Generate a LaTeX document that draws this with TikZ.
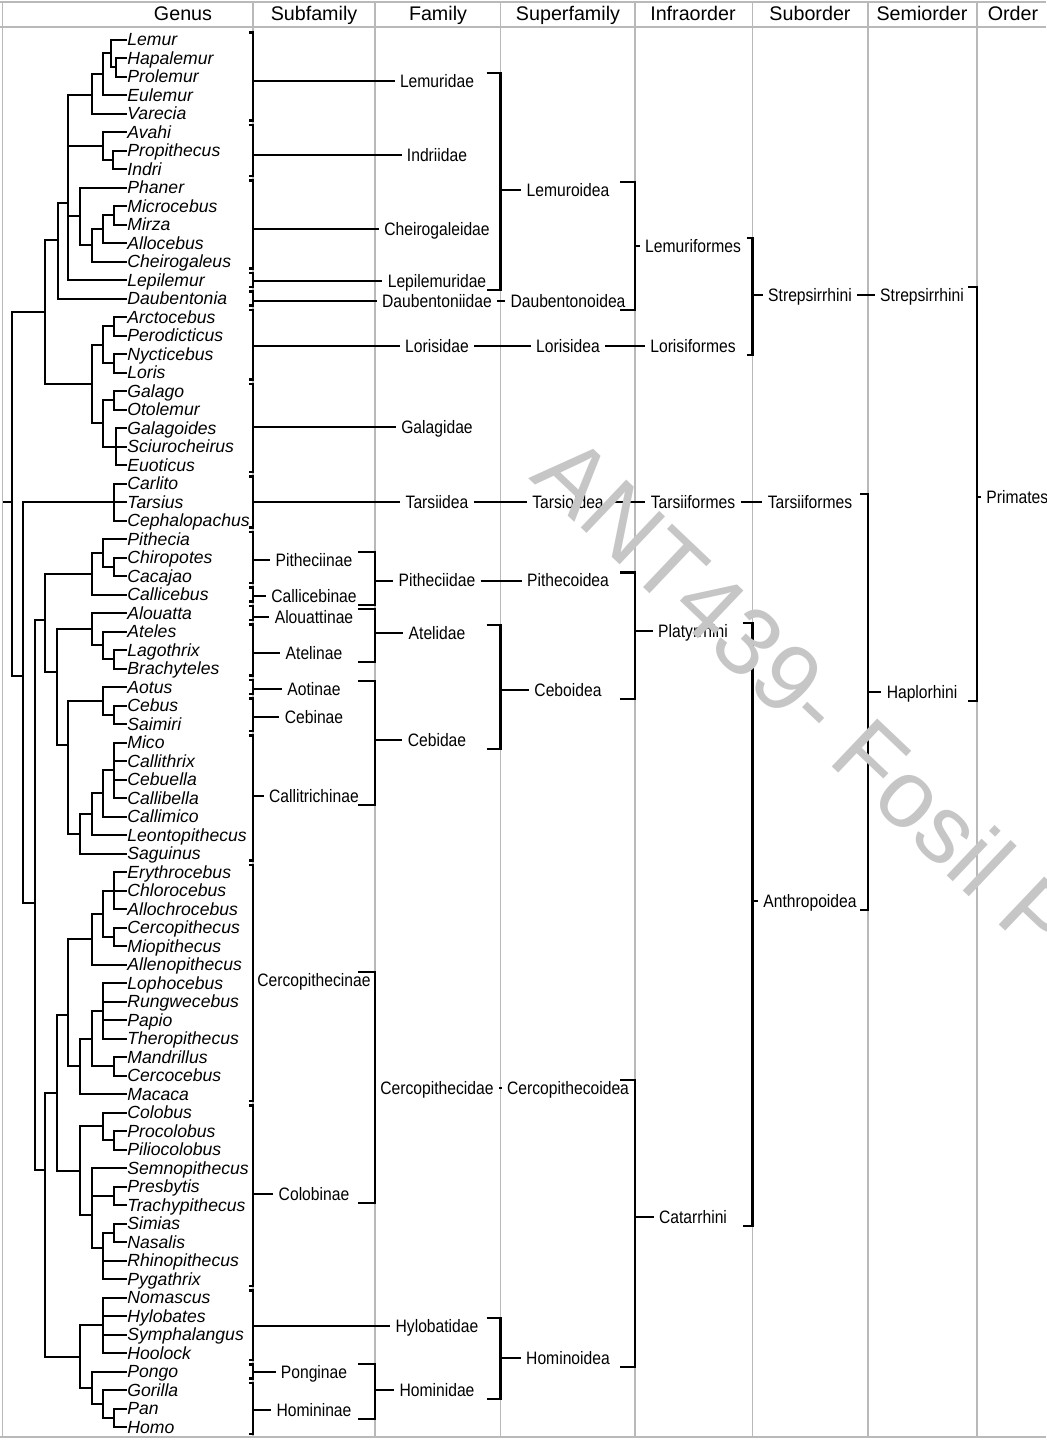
\documentclass[tikz,border=0pt]{standalone}
\usepackage{fontspec}
\setmainfont{Liberation Sans}
\newfontfamily\labfont[FakeStretch=0.87]{Liberation Sans}
\usetikzlibrary{calc}

\definecolor{gridgrey}{RGB}{185,185,185}
\definecolor{wmgrey}{RGB}{198,198,198}

\tikzset{
  genus/.style={anchor=west, inner sep=0pt, text height=6.3pt, text depth=0pt,
    font=\fontsize{8.8}{10}\selectfont\itshape},
  lab/.style={inner xsep=2.5pt, inner ysep=0pt, text height=6.4pt, text depth=0pt,
    font=\labfont\fontsize{9}{11}\selectfont},
  hdr/.style={anchor=base, inner sep=0pt, font=\fontsize{9.85}{12}\selectfont},
  tree/.style={line width=1pt},
  brk/.style={line width=1.2pt},
  gridln/.style={draw=gridgrey, line width=0.8pt},
  wmark/.style={text=wmgrey, inner sep=0pt, font=\fontsize{48}{50}\selectfont}
}

% bracket: column, tick length, top label, bottom label, target label
\newcommand{\labbrack}[5]{%
  \draw[brk] ($(#1 |- #3)+(-#2,4pt)$) -- ($(#1 |- #3)+(0,4pt)$)
    -- ($(#1 |- #4)+(0,-4.5pt)$) -- ($(#1 |- #4)+(-#2,-4.5pt)$);
  \draw[tree] (#1 |- #5) -- (#5.west);}

\begin{document}
\begin{tikzpicture}[x=0.5pt,y=-0.5pt]
\clip (0,0) rectangle (1046,1440);
\fill[white] (0,0) rectangle (1046,1440);

% table grid
\draw[gridln] (0,2) -- (1046,2);
\draw[gridln] (0,27) -- (1046,27);
\draw[gridln] (0,1437) -- (1046,1437);
\draw[gridln] (2.5,2) -- (2.5,1437);
\foreach \x in {253,375,500.5,635,752.5,868,977} { \draw[gridln] (\x,2) -- (\x,1437); }

\coordinate (eGenus) at (253,0);
\coordinate (eSubfam) at (375,0);
\coordinate (eFamily) at (500.5,0);
\coordinate (eSuperfam) at (635,0);
\coordinate (eInfra) at (752.5,0);
\coordinate (eSubord) at (868,0);
\coordinate (eSemi) at (977,0);

\foreach \x/\n/\t in {183/hGenus/Genus, 314/hSubfam/Subfamily, 438/hFamily/Family,
    568/hSuperfam/Superfamily, 693/hInfra/Infraorder, 810/hSubord/Suborder,
    922/hSemi/Semiorder, 1013/hOrder/Order}
  { \node[hdr] (\n) at (\x,20) {\t}; }

% genera
\foreach \g [count=\i from 0] in {Lemur, Hapalemur, Prolemur, Eulemur, Varecia, Avahi,
    Propithecus, Indri, Phaner, Microcebus, Mirza, Allocebus, Cheirogaleus, Lepilemur,
    Daubentonia, Arctocebus, Perodicticus, Nycticebus, Loris, Galago, Otolemur,
    Galagoides, Sciurocheirus, Euoticus, Carlito, Tarsius, Cephalopachus, Pithecia,
    Chiropotes, Cacajao, Callicebus, Alouatta, Ateles, Lagothrix, Brachyteles, Aotus,
    Cebus, Saimiri, Mico, Callithrix, Cebuella, Callibella, Callimico, Leontopithecus,
    Saguinus, Erythrocebus, Chlorocebus, Allochrocebus, Cercopithecus, Miopithecus,
    Allenopithecus, Lophocebus, Rungwecebus, Papio, Theropithecus, Mandrillus,
    Cercocebus, Macaca, Colobus, Procolobus, Piliocolobus, Semnopithecus, Presbytis,
    Trachypithecus, Simias, Nasalis, Rhinopithecus, Pygathrix, Nomascus, Hylobates,
    Symphalangus, Hoolock, Pongo, Gorilla, Pan, Homo}
  { \node[genus] (g\i) at (127,{39.5+18.5*\i}) {\g}; }

% rank labels
\foreach \n/\x/\y/\t in {
    sPith/314/560/Pitheciinae, sCalli/314/596/Callicebinae, sAlou/314/617/Alouattinae,
    sAtel/314/653/Atelinae, sAot/314/689/Aotinae, sCeb/314/717/Cebinae,
    sCallit/314/796/Callitrichinae, sCerc/314/980/Cercopithecinae,
    sColob/314/1194/Colobinae, sPong/314/1372/Ponginae, sHomin/314/1410/Homininae,
    fLemur/437/81/Lemuridae, fIndri/437/155/Indriidae, fCheir/437/229/Cheirogaleidae,
    fLepil/437/281/Lepilemuridae, fDaub/437/301/Daubentoniidae, fLoris/437/346/Lorisidae,
    fGalag/437/427/Galagidae, fTars/437/502/Tarsiidea, fPith/437/580.5/Pitheciidae,
    fAtel/437/633/Atelidae, fCeb/437/740/Cebidae, fCerc/437/1088/Cercopithecidae,
    fHylo/437/1326/Hylobatidae, fHomin/437/1390/Hominidae,
    pLemur/568/190/Lemuroidea, pDaub/568/301/Daubentonoidea, pLoris/568/346/Lorisidea,
    pTars/568/502/Tarsioidea, pPith/568/580.5/Pithecoidea, pCeb/568/690/Ceboidea,
    pCerc/568/1088/Cercopithecoidea, pHomin/568/1358/Hominoidea,
    iLemur/693/246/Lemuriformes, iLoris/693/346/Lorisiformes, iTars/693/502/Tarsiiformes,
    iPlat/693/631/Platyrrhini, iCat/693/1217/Catarrhini,
    oStrep/810/295/Strepsirrhini, oTars/810/502/Tarsiiformes, oAnth/810/901/Anthropoidea,
    mStrep/922/295/Strepsirrhini, mHapl/922/692/Haplorhini}
  { \node[lab] (\n) at (\x,\y) {\t}; }
\node[lab, anchor=west] (ordPrim) at (981,497) {Primates};

% tree
\foreach \n/\x/\y in {t1/116/67.3, t2/111/53.4, t3/103/74.2, t4/92/95, t5/113/159.8,
    t6/103/146, t7/114/215.3, t8/103/229.1, t9/92/245.3, t10/80/216.4, t11/68/203,
    t12/58/240, t13/114/326.3, t14/114/363.3, t15/103/344.8, t16/114/400.3,
    t17/116/446.5, t18/103/423.4, t19/92/384.1, t20/45/312, t21/114/502,
    t22/114/566.8, t23/103/552.9, t24/92/573.7, t25/114/659.3, t26/103/645.4,
    t27/92/629.2, t28/114/714.8, t29/103/700.9, t30/114/770.3, t31/103/793.4,
    t32/92/814.2, t33/80/833.9, t34/68/745, t35/57/672, t36/45/620,
    t37/114/890.5, t38/114/936.8, t39/103/913.6, t40/92/939, t41/103/1010.8,
    t42/114/1066.3, t43/92/1038.5, t44/80/1066.3, t45/68/1015, t46/114/1140.3,
    t47/103/1126.4, t48/114/1195.8, t49/114/1232.8, t50/103/1248, t51/92/1215,
    t52/80/1170.7, t53/57/1092.9, t54/103/1325.3, t55/114/1417.8, t56/103/1403.9,
    t57/92/1387.7, t58/80/1356.5, t59/45/1170, t60/35/903, t61/23/676, t62/12/502}
  { \coordinate (\n) at (\x,\y); }
\coordinate (stem) at (3,502);

\foreach \p/\c in {t2/t1, t3/t2, t4/t3, t6/t5, t8/t7, t9/t8, t10/t9, t11/t4, t11/t6,
    t11/t10, t12/t11, t15/t13, t15/t14, t18/t16, t18/t17, t19/t15, t19/t18, t20/t12,
    t20/t19, t23/t22, t24/t23, t26/t25, t27/t26, t29/t28, t31/t30, t32/t31, t33/t32,
    t34/t29, t34/t33, t35/t27, t35/t34, t36/t24, t36/t35, t39/t37, t39/t38, t40/t39,
    t43/t41, t43/t42, t44/t43, t45/t40, t45/t44, t47/t46, t50/t49, t51/t48, t51/t50,
    t52/t47, t52/t51, t53/t45, t53/t52, t56/t55, t57/t56, t58/t54, t58/t57, t59/t53,
    t59/t58, t60/t36, t60/t59, t61/t21, t61/t60, t62/t20, t62/t61}
  { \draw[tree] (\p) |- (\c); }
\foreach \p/\c in {t1/1, t1/2, t2/0, t3/3, t4/4, t5/6, t5/7, t6/5, t7/9, t7/10, t8/11,
    t9/12, t10/8, t11/13, t12/14, t13/15, t13/16, t14/17, t14/18, t16/19, t16/20,
    t17/21, t17/22, t17/23, t21/24, t21/25, t21/26, t22/28, t22/29, t23/27, t24/30,
    t25/33, t25/34, t26/32, t27/31, t28/36, t28/37, t29/35, t30/38, t30/39, t30/40,
    t30/41, t31/42, t32/43, t33/44, t37/45, t37/46, t37/47, t38/48, t38/49, t40/50,
    t41/51, t41/52, t41/53, t41/54, t42/55, t42/56, t44/57, t46/59, t46/60, t47/58,
    t48/62, t48/63, t49/64, t49/65, t50/66, t50/67, t51/61, t54/68, t54/69, t54/70,
    t54/71, t55/74, t55/75, t56/73, t57/72}
  { \draw[tree] (\p) |- (g\c.west); }
\draw[tree] (stem) -- (t62);

% genus groups
\foreach \a/\b/\t in {0/4/fLemur, 5/7/fIndri, 8/12/fCheir, 13/13/fLepil, 14/14/fDaub,
    15/18/fLoris, 19/23/fGalag, 24/26/fTars, 27/29/sPith, 30/30/sCalli, 31/31/sAlou,
    32/34/sAtel, 35/35/sAot, 36/37/sCeb, 38/44/sCallit, 45/57/sCerc, 58/67/sColob,
    68/71/fHylo, 72/72/sPong, 73/75/sHomin} {
  \draw[brk] ($(eGenus |- g\a)+(-2pt,3.5pt)$) -- ($(eGenus |- g\a)+(0,3.5pt)$)
    -- ($(eGenus |- g\b)+(0,-3.5pt)$) -- ($(eGenus |- g\b)+(-2pt,-3.5pt)$);
  \draw[tree] (eGenus |- \t) -- (\t.west);
}

% higher ranks
\labbrack{eSubfam}{8.5pt}{sPith}{sCalli}{fPith}
\labbrack{eSubfam}{8.5pt}{sAlou}{sAtel}{fAtel}
\labbrack{eSubfam}{8.5pt}{sAot}{sCallit}{fCeb}
\labbrack{eSubfam}{8.5pt}{sCerc}{sColob}{fCerc}
\labbrack{eSubfam}{8.5pt}{sPong}{sHomin}{fHomin}
\labbrack{eFamily}{7pt}{fLemur}{fLepil}{pLemur}
\labbrack{eFamily}{7pt}{fAtel}{fCeb}{pCeb}
\labbrack{eFamily}{7pt}{fHylo}{fHomin}{pHomin}
\labbrack{eSuperfam}{7.5pt}{pLemur}{pDaub}{iLemur}
\labbrack{eSuperfam}{7.5pt}{pPith}{pCeb}{iPlat}
\labbrack{eSuperfam}{7.5pt}{pCerc}{pHomin}{iCat}
\labbrack{eInfra}{3pt}{iLemur}{iLoris}{oStrep}
\labbrack{eInfra}{5pt}{iPlat}{iCat}{oAnth}
\labbrack{eSubord}{4pt}{oTars}{oAnth}{mHapl}
\labbrack{eSemi}{4.5pt}{mStrep}{mHapl}{ordPrim}
\foreach \a/\b in {fDaub/pDaub, fLoris/pLoris, pLoris/iLoris, fTars/pTars, pTars/iTars,
    iTars/oTars, fPith/pPith, fCerc/pCerc, oStrep/mStrep}
  { \draw[tree] (\a.east) -- (\b.west); }

\node[wmark, rotate=-43.5] (wm) at (808,696) {ANT439- Fosil P};
\end{tikzpicture}
\end{document}
